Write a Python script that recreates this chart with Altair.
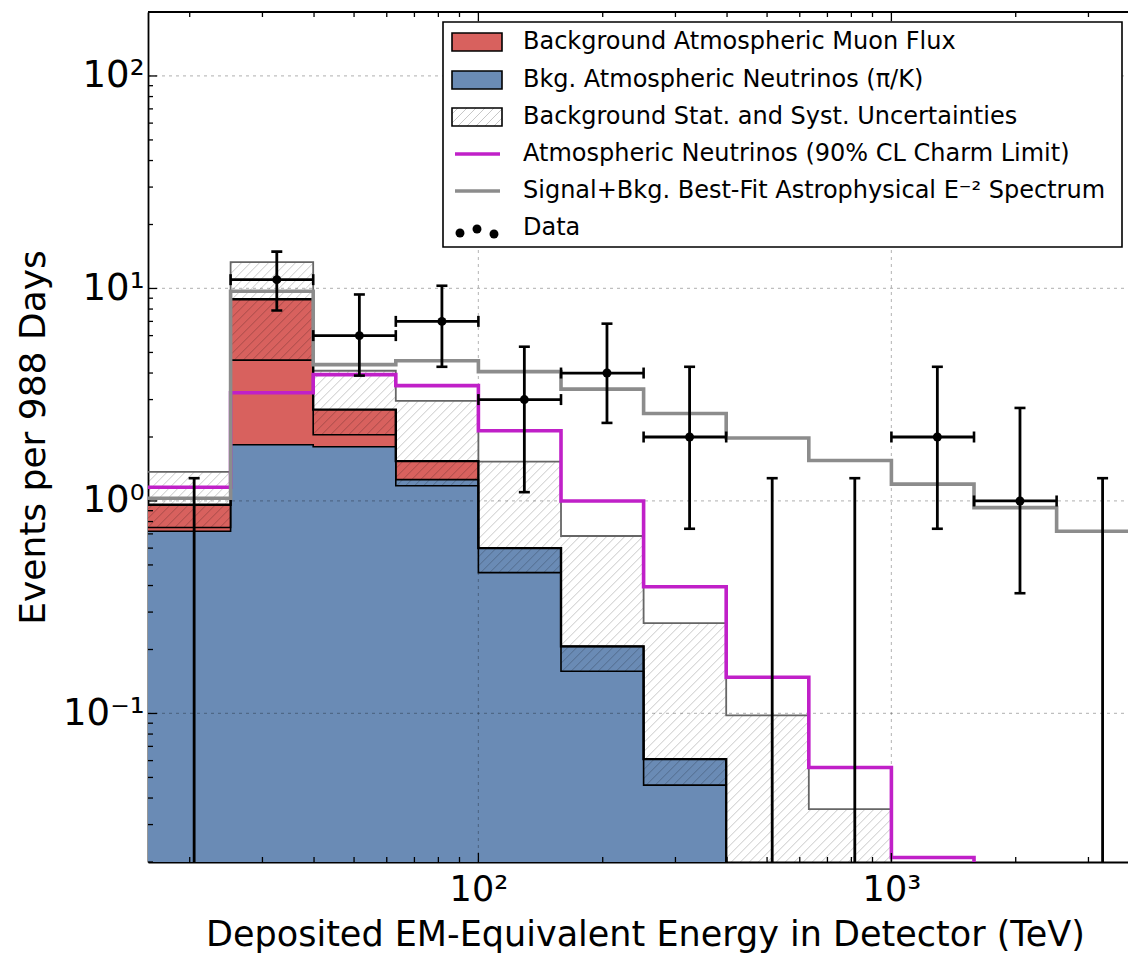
import math
import pandas as pd
import altair as alt

# ---------------- data ----------------
# histogram bin edges in TeV (log10 = 1.2, 1.4, ... 3.6)
bin_edges = [15.85, 25.12, 39.81, 63.10, 100.0, 158.5, 251.2, 398.1, 631.0,
             1000.0, 1585.0, 2512.0, 3981.0]

# Bkg. atmospheric neutrinos (pi/K), per bin (bins 0..6 visible)
nu_conv = [0.72, 1.84, 1.80, 1.26, 0.60, 0.207, 0.061]
# neutrinos + atmospheric muons (top of the stacked histogram)
bkg_total = [0.96, 8.9, 2.69, 1.54, 0.60, 0.207, 0.061]
# background uncertainty band (lower / upper edge)
unc_lo = [0.75, 4.6, 2.05, 1.18, 0.46, 0.158, 0.046]
unc_hi = [1.37, 13.3, 4.1, 2.96, 1.53, 0.684, 0.266, 0.098, 0.0355]
# atmospheric neutrinos, 90% CL charm limit
charm_limit = [1.16, 3.23, 3.93, 3.49, 2.14, 1.0, 0.395, 0.148, 0.0557, 0.021]
# signal + bkg best-fit E^-2
signal_bkg = [1.03, 9.7, 4.38, 4.57, 4.06, 3.36, 2.58, 1.98, 1.55, 1.20, 0.93, 0.72]

# data points
data_e = [20.5, 32.5, 51.5, 81.6, 129.2, 204.8, 324.6, 514.5, 815.4, 1292.0, 2048.0, 3246.0]
data_n = [0, 11, 6, 7, 3, 4, 2, 0, 0, 2, 1, 0]
data_lo = [None, 7.87, 3.89, 4.28, 1.10, 2.33, 0.74, None, None, 0.74, 0.368, None]
data_hi = [1.28, 14.9, 9.37, 10.3, 5.32, 6.83, 4.28, 1.28, 1.28, 4.28, 2.74, 1.28]

legend_labels = [
    "Background Atmospheric Muon Flux",
    "Bkg. Atmospheric Neutrinos (\u03c0/K)",
    "Background Stat. and Syst. Uncertainties",
    "Atmospheric Neutrinos (90% CL Charm Limit)",
    "Signal+Bkg. Best-Fit Astrophysical E\u207b\u00b2 Spectrum",
    "Data",
]

x_major = [100, 1000]
x_minor = [20, 30, 40, 50, 60, 70, 80, 90, 200, 300, 400, 500, 600, 700, 800, 900, 2000, 3000]
y_major = [0.1, 1, 10, 100]
y_minor = [0.02, 0.03, 0.04, 0.05, 0.06, 0.07, 0.08, 0.09,
           0.2, 0.3, 0.4, 0.5, 0.6, 0.7, 0.8, 0.9,
           2, 3, 4, 5, 6, 7, 8, 9, 20, 30, 40, 50, 60, 70, 80, 90]

# ---------------- layout / style ----------------
W, H = 980, 850
XMIN, XMAX = bin_edges[0], 3740.0
YMIN, YMAX = 0.02, 200.0
FLOOR = 0.005
FONT = "DejaVu Sans"
BLUE = "#6a8bb5"
RED = "#d8615e"
MAGENTA = "#c020c8"
GRAY = "#8c8c8c"

KX = W / math.log10(XMAX / XMIN)   # px per decade
KY = H / math.log10(YMAX / YMIN)

xscale = alt.Scale(type="log", domain=[XMIN, XMAX], nice=False)
yscale = alt.Scale(type="log", domain=[YMIN, YMAX], nice=False)


def X(f):
    return alt.X(f, type="quantitative", scale=xscale)


def Y(f):
    return alt.Y(f, type="quantitative", scale=yscale)


def step_df(values, drop):
    n = len(values)
    xs = bin_edges[:n] + [bin_edges[n]]
    ys = list(values) + [FLOOR if drop else values[-1]]
    return pd.DataFrame({"e": xs, "v": ys})


dummy = pd.DataFrame({"a": [0]})

# ---------- filled histograms (this layer carries the axes) ----------
blue_df = pd.DataFrame({"e": bin_edges[:len(nu_conv) + 1],
                        "v": nu_conv + [nu_conv[-1]],
                        "base": [YMIN] * (len(nu_conv) + 1)})
blue_area = alt.Chart(blue_df).mark_area(
    interpolate="step-after", color=BLUE, opacity=1
).encode(
    x=alt.X("e:Q", scale=xscale, title="Deposited EM-Equivalent Energy in Detector (TeV)",
            axis=alt.Axis(values=x_major, orient="bottom",
                          labelExpr="datum.value >= 500 ? '10\u00b3' : '10\u00b2'",
                          labelPadding=10, labelFontSize=35,
                          titleFontSize=35,
                          titleBaseline="alphabetic",
                          titleX=497, titleY=83, titleAlign="center")),
    y=alt.Y("v:Q", scale=yscale, title="Events per 988 Days",
            axis=alt.Axis(values=y_major, orient="left",
                          labelExpr="datum.value >= 50 ? '10\u00b2' : datum.value >= 5 ? '10\u00b9' : datum.value >= 0.5 ? '10\u2070' : '10\u207b\u00b9'",
                          labelPadding=4,
                          titleBaseline="alphabetic",
                          titleAngle=270, titleX=-104, titleY=H / 2,
                          titleAlign="center")),
    y2=alt.Y2("base:Q"),
)

red_df = pd.DataFrame({"e": bin_edges[:len(bkg_total) + 1],
                       "top": bkg_total + [bkg_total[-1]],
                       "bot": nu_conv + [nu_conv[-1]]})
red_area = alt.Chart(red_df).mark_area(
    interpolate="step-after", color=RED, opacity=1
).encode(x=X("e"), y=Y("top"), y2=alt.Y2("bot"))

# ---------- hatch of the uncertainty band ----------
SP = 9.0
segs = []
for i, hi in enumerate(unc_hi):
    lo = unc_lo[i] if i < len(unc_lo) else YMIN
    u0, u1 = math.log10(bin_edges[i]) * KX, math.log10(bin_edges[i + 1]) * KX
    v0, v1 = math.log10(lo) * KY, math.log10(hi) * KY
    k0 = math.floor((v0 - u1) / SP)
    k1 = math.ceil((v1 - u0) / SP)
    for k in range(k0, k1 + 1):
        c = k * SP
        ua = max(u0, v0 - c)
        ub = min(u1, v1 - c)
        if ub - ua > 0.5:
            segs.append({"x1": 10 ** (ua / KX), "y1": 10 ** ((ua + c) / KY),
                         "x2": 10 ** (ub / KX), "y2": 10 ** ((ub + c) / KY)})
hatch = alt.Chart(pd.DataFrame(segs)).mark_rule(
    stroke="black", strokeOpacity=0.22, strokeWidth=1
).encode(x=X("x1"), y=Y("y1"), x2=alt.X2("x2"), y2=alt.Y2("y2"))

# ---------- grid (above patches, below lines) ----------
grid_x = alt.Chart(pd.DataFrame({"t": x_major})).mark_rule(
    stroke="black", strokeOpacity=0.25, strokeDash=[3, 4], strokeWidth=1.2
).encode(x=X("t"), y=alt.value(0), y2=alt.value(H))
grid_y = alt.Chart(pd.DataFrame({"t": y_major})).mark_rule(
    stroke="black", strokeOpacity=0.25, strokeDash=[3, 4], strokeWidth=1.2
).encode(y=Y("t"), x=alt.value(0), x2=alt.value(W))


# ---------- step outlines ----------
def step_line(values, drop, color, width, opacity=1.0):
    return alt.Chart(step_df(values, drop)).mark_line(
        interpolate="step-after", clip=True, color=color,
        strokeWidth=width, opacity=opacity
    ).encode(x=X("e"), y=Y("v"))


blue_line = step_line(nu_conv, True, "black", 1.6)
band_lo_line = step_line(unc_lo, True, "black", 1.6)
band_hi_line = step_line(unc_hi, True, "#666666", 1.8)
stack_line = step_line(bkg_total, True, "black", 2.4)
charm_line = step_line(charm_limit, True, MAGENTA, 3.6)
signal_line = step_line(signal_bkg, False, GRAY, 3.6)

# ---------- data ----------
pts = pd.DataFrame({
    "e": data_e, "n": data_n,
    "lo": [l if l is not None else YMIN for l in data_lo],
    "hi": data_hi,
    "elo": bin_edges[:-1], "ehi": bin_edges[1:],
    "has_lo": [l is not None for l in data_lo],
})
pts_pos = pts[pts["n"] > 0]
pts_lo = pts[pts["has_lo"]]

vbar = alt.Chart(pts).mark_rule(color="black", strokeWidth=2.8, clip=True).encode(
    x=X("e"), y=Y("lo"), y2=alt.Y2("hi"))
hbar = alt.Chart(pts_pos).mark_rule(color="black", strokeWidth=2.8).encode(
    x=X("elo"), x2=alt.X2("ehi"), y=Y("n"))
cap_top = alt.Chart(pts).mark_tick(orient="horizontal", size=11, thickness=2.6,
                                   color="black", opacity=1).encode(x=X("e"), y=Y("hi"))
cap_bot = alt.Chart(pts_lo).mark_tick(orient="horizontal", size=11, thickness=2.6,
                                      color="black", opacity=1).encode(x=X("e"), y=Y("lo"))
cap_l = alt.Chart(pts_pos).mark_tick(orient="vertical", size=11, thickness=2.6,
                                     color="black", opacity=1).encode(x=X("elo"), y=Y("n"))
cap_r = alt.Chart(pts_pos).mark_tick(orient="vertical", size=11, thickness=2.6,
                                     color="black", opacity=1).encode(x=X("ehi"), y=Y("n"))
dots = alt.Chart(pts_pos).mark_circle(size=80, color="black", opacity=1).encode(
    x=X("e"), y=Y("n"))


# ---------- legend ----------
def vrect(x1, y1, x2, y2, **kw):
    return alt.Chart(dummy).mark_rect(**kw).encode(
        x=alt.value(x1), x2=alt.value(x2), y=alt.value(y1), y2=alt.value(y2))


def vrule(x1, y1, x2, y2, **kw):
    return alt.Chart(dummy).mark_rule(**kw).encode(
        x=alt.value(x1), x2=alt.value(x2), y=alt.value(y1), y2=alt.value(y2))


LX0, LX1, LY0, LY1 = 295, 974, 10, 235
row_y = [30, 68, 105, 142, 179, 216]
PX0, PX1 = 304, 354
legend_layers = [vrect(LX0, LY0, LX1, LY1, fill="white", stroke="black", strokeWidth=1.6)]
legend_layers.append(vrect(PX0, row_y[0] - 9, PX1, row_y[0] + 9, fill=RED, stroke="black", strokeWidth=1.6))
legend_layers.append(vrect(PX0, row_y[1] - 9, PX1, row_y[1] + 9, fill=BLUE, stroke="black", strokeWidth=1.6))
hy0, hy1 = row_y[2] - 9, row_y[2] + 9
c = PX0 + hy0 + 6
while c < PX1 + hy1:
    xa = max(PX0, c - hy1)
    xb = min(PX1, c - hy0)
    if xb - xa > 1:
        legend_layers.append(vrule(xa, c - xa, xb, c - xb, stroke="black",
                                   strokeOpacity=0.22, strokeWidth=1))
    c += SP
legend_layers.append(alt.Chart(dummy).mark_rect(fillOpacity=0, stroke="black", strokeWidth=1.6).encode(
    x=alt.value(PX0), x2=alt.value(PX1), y=alt.value(hy0), y2=alt.value(hy1)))
legend_layers.append(vrule(307, row_y[3], 352, row_y[3], stroke=MAGENTA, strokeWidth=3.6))
legend_layers.append(vrule(307, row_y[4], 352, row_y[4], stroke=GRAY, strokeWidth=3.6))
for (dx, dy) in [(312, 221), (329, 217), (346, 222)]:
    legend_layers.append(alt.Chart(dummy).mark_circle(size=80, color="black", opacity=1).encode(
        x=alt.value(dx), y=alt.value(dy)))
for i, lab in enumerate(legend_labels):
    legend_layers.append(alt.Chart(dummy).mark_text(
        text=lab, align="left", baseline="middle", font=FONT, fontSize=24, color="black"
    ).encode(x=alt.value(375), y=alt.value(row_y[i])))


# ---------- inward ticks + top frame ----------
def xticks(vals, length):
    d = pd.DataFrame({"t": vals})
    b = alt.Chart(d).mark_rule(color="black", strokeWidth=1.3).encode(
        x=X("t"), y=alt.value(H), y2=alt.value(H - length))
    t = alt.Chart(d).mark_rule(color="black", strokeWidth=1.3).encode(
        x=X("t"), y=alt.value(0), y2=alt.value(length))
    return [b, t]


def yticks(vals, length):
    d = pd.DataFrame({"t": vals})
    return [alt.Chart(d).mark_rule(color="black", strokeWidth=1.3).encode(
        y=Y("t"), x=alt.value(0), x2=alt.value(length))]


frame_top = vrule(0, 0, W, 0, stroke="black", strokeWidth=1.8)

layers = ([blue_area, red_area, hatch, grid_x, grid_y,
           blue_line, band_lo_line, band_hi_line, stack_line,
           charm_line, signal_line,
           vbar, hbar, cap_top, cap_bot, cap_l, cap_r, dots]
          + legend_layers
          + xticks(x_major, 9) + xticks(x_minor, 5)
          + yticks(y_major, 9) + yticks(y_minor, 5)
          + [frame_top])

chart = alt.layer(*layers).properties(
    width=W, height=H,
    padding={"left": 148, "top": 12, "right": 0, "bottom": 92},
    autosize=alt.AutoSizeParams(type="none"),
    background="white",
).configure_view(
    stroke=None
).configure_axis(
    grid=False, ticks=False, domainColor="black", domainWidth=1.8, zindex=1,
    labelFont=FONT, labelFontSize=37, labelColor="black",
    titleFont=FONT, titleFontSize=36, titleFontWeight="normal", titleColor="black",
)

chart.save("out.html", embed_options={"renderer": "svg", "actions": False})
